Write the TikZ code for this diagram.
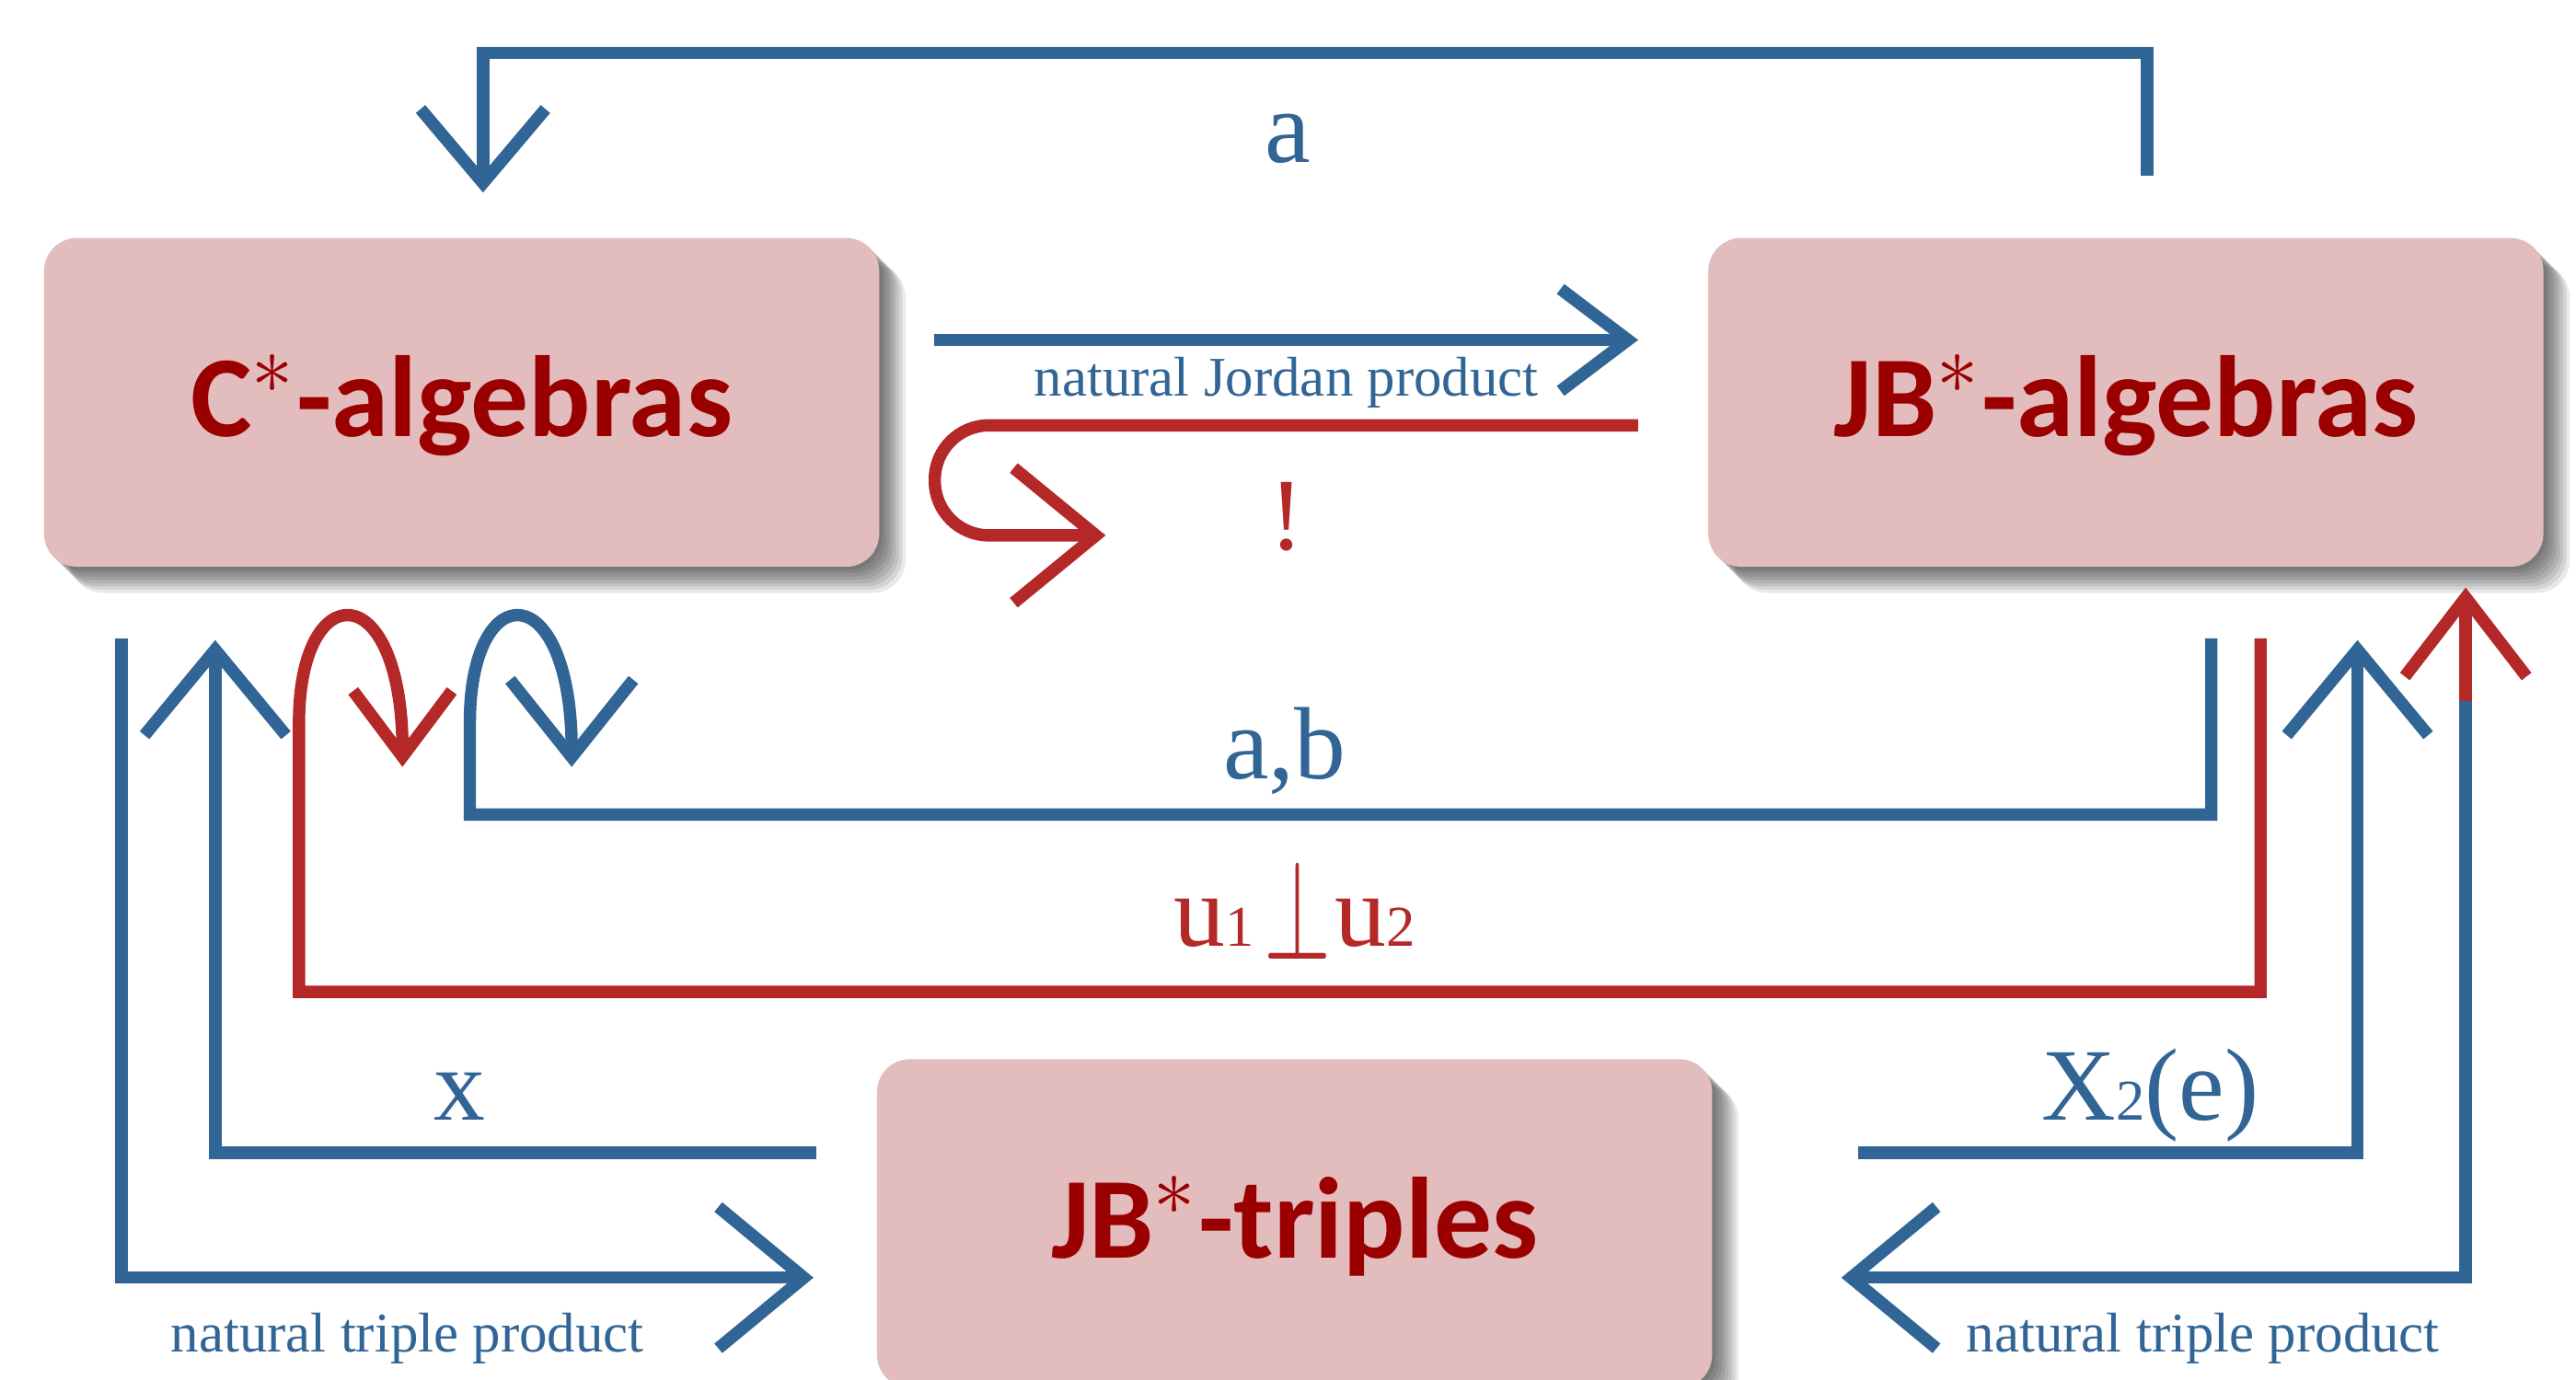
\documentclass[tikz,border=0pt]{standalone}
\usepackage{fontspec}
\setmainfont{Liberation Serif}
\newfontfamily\boxfont{Carlito}
\usepackage{graphicx}
\usetikzlibrary{arrows.meta,shadows,calc}
\definecolor{cblue}{RGB}{49,101,150}
\definecolor{cred}{RGB}{180,40,40}
\definecolor{boxfill}{RGB}{227,188,189}
\definecolor{boxtext}{RGB}{155,0,0}
\tikzset{
  sh/.style={general shadow={shadow xshift=#1,shadow yshift=-#1,fill=black,opacity=0.085}}
}
\begin{document}
\begin{tikzpicture}[x=0.01cm,y=-0.01cm,
  conn/.style={line width=0.075cm, line join=miter},
  bl/.style={conn, draw=cblue},
  rd/.style={conn, draw=cred},
  box/.style={rounded corners=0.2cm, fill=boxfill, minimum width=5.08cm, minimum height=2cm,
    inner sep=0pt, text=boxtext, font=\boxfont\bfseries\fontsize{20}{24}\selectfont,
    text height=0.45cm, text depth=0.03cm,
    sh=0.02cm, sh=0.04cm, sh=0.06cm, sh=0.08cm, sh=0.10cm, sh=0.12cm, sh=0.14cm, sh=0.16cm},
  big/.style={font=\fontsize{17.8}{20}\selectfont, anchor=base, inner sep=0pt},
  small/.style={font=\fontsize{9.7}{11}\selectfont, anchor=base, inner sep=0pt},
  tipM/.style={-{Straight Barb[length=0.45cm,width=0.76cm,sharp]}},
  tipL/.style={-{Straight Barb[length=0.52cm,width=0.86cm,sharp]}},
  tipS/.style={-{Straight Barb[length=0.41cm,width=0.62cm,sharp]}},
]
\useasboundingbox (0,0) rectangle (1568,840);
\fill[white] (0,0) rectangle (1568,840);

% boxes
\node[box] (C) at (281,245) {C$^{*}$-algebras};
\node[box] (J) at (1294,245) {JB$^{*}$-algebras};
\node[box] (T) at (788,745) {JB$^{*}$-triples};

% free ends
\coordinate (bangend) at (673,326);
\coordinate (abend) at (348,467);
\coordinate (uend) at (245,467);
\coordinate (rj) at ($(J.south east)+(-48,81)$);

% a (top)
\draw[bl, tipM] ($(J.north)+(13,-37)$) |- ($(C.north)+(13,-112)$) -- ($(C.north)+(13,-27)$);
\node[big, text=cblue] (la) at (784,99) {a};

% natural Jordan product
\draw[bl, tipS] ($(C.east)+(33,-38)$) -- ($(J.west)+(-42,-38)$);
\node[small, text=cblue] (lj) at (783,241) {natural Jordan product};

% !
\draw[rd, rounded corners=0.33cm, -{Straight Barb[length=0.5cm,width=0.82cm,sharp]}]
  ($(J.west)+(-42,14)$) -- (569,259) -- (569,326) -- (bangend);
\node[big, text=cred] (lbang) at (783,335) {!};

% a,b loop
\draw[bl, -{Straight Barb[length=0.47cm,width=0.75cm,sharp]}]
  ($(J.south)+(52,43)$) -- (1346,496) -- (286,496) -- (286,440)
  .. controls (286,350) and (348,350) .. (abend);
\node[big, text=cblue] (lab) at (782,474) {a,b};

% u1 perp u2 loop
\draw[rd, -{Straight Barb[length=0.40cm,width=0.60cm,sharp]}]
  ($(J.south)+(82,43)$) -- (1376,604) -- (182,604) -- (182,440)
  .. controls (182,350) and (245,350) .. (uend);
\node[big, text=cred] (lu) at (788,576)
  {u{\fontsize{10}{10}\selectfont 1}\kern0.06cm\raisebox{-0.08cm}{\scalebox{0.6}[1]{\fontsize{24}{26}\selectfont$\perp$}}\kern0.02cm u{\fontsize{10}{10}\selectfont 2}};

% outer left: natural triple product
\draw[bl, tipL] ($(C.south)+(-207,43)$) |- ($(T.west)+(-38,33)$);
\node[small, text=cblue] (ltl) at (248,823) {natural triple product};

% inner left: x
\draw[bl, tipL] ($(T.west)+(-36,-43)$) -| ($(C.south)+(-150,44)$);
\node[big, text=cblue] (lx) at (280,682) {x};

% inner right: X2(e)
\draw[bl, tipL] ($(T.east)+(88,-43)$) -| ($(J.south)+(141,44)$);
\node[big, text=cblue] (lxe) at (1309,682) {X{\fontsize{10}{10}\selectfont 2}(e)};

% outer right: natural triple product
\draw[bl, tipL] (rj) |- ($(T.east)+(78,33)$);
\draw[rd, -{Straight Barb[length=0.48cm,width=0.74cm,sharp]}] (rj) -- ($(J.south east)+(-48,12)$);
\node[small, text=cblue] (ltr) at (1341,823) {natural triple product};
\end{tikzpicture}
\end{document}
